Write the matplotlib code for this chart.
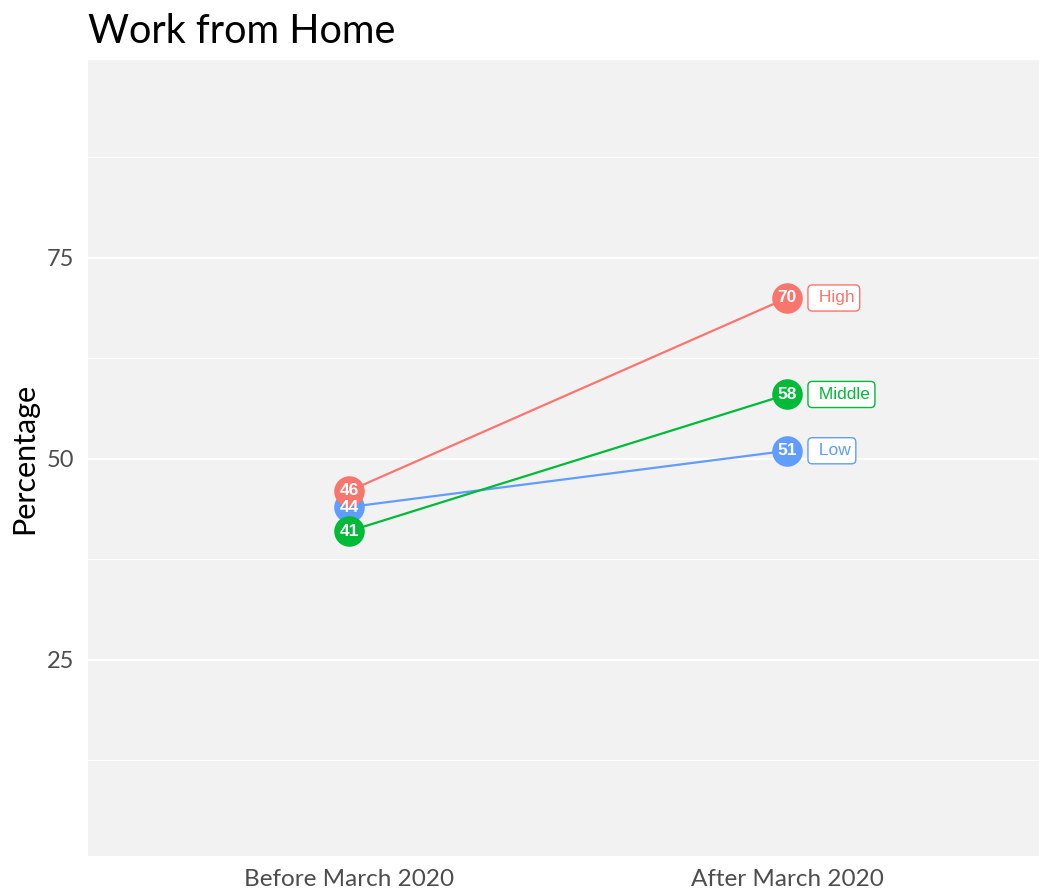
import matplotlib
matplotlib.use('Agg')
import matplotlib.pyplot as plt

periods = ['Before March 2020', 'After March 2020']
groups = ['Low', 'Middle', 'High']
values = {
    'Low': [44, 51],
    'Middle': [41, 58],
    'High': [46, 70],
}
colors = {'High': '#F8766D', 'Middle': '#00BA38', 'Low': '#619CFF'}

plt.rcParams['font.family'] = ['Lato', 'DejaVu Sans']

fig = plt.figure(figsize=(10.39, 8.92), dpi=100)
ax = fig.add_axes([88 / 1039, 1 - 856 / 892, 1 - 88 / 1039, (856 - 60) / 892])
ax.set_facecolor('#F2F2F2')

x = list(range(len(periods)))
for g in groups:
    y = values[g]
    c = colors[g]
    ax.plot(x, y, color=c, lw=1.6, zorder=2)
    ax.plot(x, y, 'o', color=c, markersize=22, markeredgewidth=0, zorder=3)
    for xi, yi in zip(x, y):
        ax.text(xi, yi, str(yi), color='white', fontsize=12.5, fontweight='bold',
                family='Liberation Sans', ha='center', va='center', zorder=4)
    ax.annotate(' ' + g, (x[-1], y[-1]), xytext=(19, 0), textcoords='offset points',
                ha='left', va='center', color=c, fontsize=12.5, family='Liberation Sans',
                bbox=dict(boxstyle='round,pad=0.32,rounding_size=0.25', fc='white', ec=c, lw=1),
                zorder=4)

ax.set_xlim(-0.596, 1.575)
ax.set_ylim(0.6, 99.6)
ax.set_xticks(x)
ax.set_xticklabels(periods)
ax.set_yticks([25, 50, 75])
ax.set_yticks([12.5, 37.5, 62.5, 87.5], minor=True)
ax.grid(axis='y', which='major', color='white', lw=1.5)
ax.grid(axis='y', which='minor', color='white', lw=0.8)
ax.set_axisbelow(True)
ax.tick_params(axis='x', which='both', length=0, labelsize=17.5, labelcolor='#4D4D4D', pad=9)
ax.tick_params(axis='y', which='both', length=0, labelsize=17, labelcolor='#4D4D4D', pad=10)
for s in ax.spines.values():
    s.set_visible(False)

ax.set_ylabel('Percentage', fontsize=22, color='black', labelpad=6)
ax.set_title('Work from Home', loc='left', fontsize=28.5, color='black', pad=12)

fig.savefig('out.png', dpi=100)
